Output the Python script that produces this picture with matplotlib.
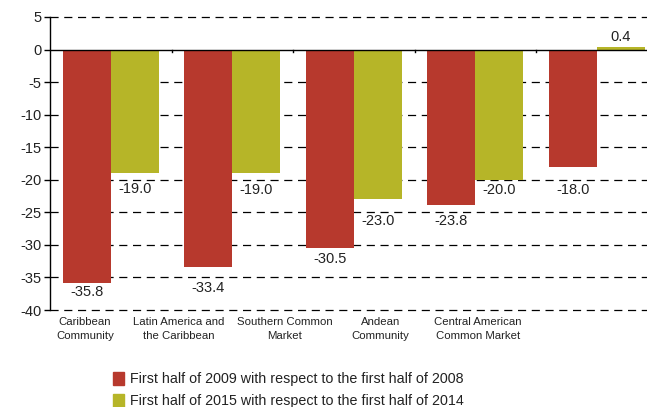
import numpy as np
import matplotlib
matplotlib.use('Agg')
import matplotlib.pyplot as plt
from matplotlib.patches import Patch

plt.rcParams['font.family'] = ['Liberation Sans', 'DejaVu Sans']
plt.rcParams['axes.unicode_minus'] = False

# Data
categories = ['Caribbean\nCommunity', 'Latin America and\nthe Caribbean',
              'Southern Common\nMarket', 'Andean\nCommunity',
              'Central American\nCommon Market']
values_2009 = [-35.8, -33.4, -30.5, -23.8, -18.0]
values_2015 = [-19.0, -19.0, -23.0, -20.0, 0.4]
labels_2009 = ['-35.8', '-33.4', '-30.5', '-23.8', '-18.0']
labels_2015 = ['-19.0', '-19.0', '-23.0', '-20.0', '0.4']
series_names = ['First half of 2009 with respect to the first half of 2008',
                'First half of 2015 with respect to the first half of 2014']

# where the value labels sit in the original (y, data units)
label_y_2009 = [-37.2, -36.6, -32.1, -26.4, -21.5]
label_y_2015 = [-21.4, -21.5, -26.4, -21.5, 2.0]

RED = '#B7392D'
OLIVE = '#B6B528'
TXT = '#222222'

W, H = 647, 407
fig = plt.figure(figsize=(W / 100, H / 100), dpi=100)
# axes run off the right edge, as in the original
ax = fig.add_axes([50 / W, (H - 310) / H, 607.5 / W, 293 / H])

x = np.arange(len(categories))
bw = 0.395
ax.bar(x - bw / 2, values_2009, bw, color=RED, zorder=3)
ax.bar(x + bw / 2, values_2015, bw, color=OLIVE, zorder=3)

for xi, ly, lab in zip(x - bw / 2, label_y_2009, labels_2009):
    ax.text(xi, ly, lab, ha='center', va='center', fontsize=10.5, color=TXT, zorder=4)
for xi, ly, lab in zip(x + bw / 2, label_y_2015, labels_2015):
    ax.text(xi, ly, lab, ha='center', va='center', fontsize=10.5, color=TXT, zorder=4)

ax.set_xlim(-0.5, len(categories) - 0.5)
ax.set_ylim(-40, 5)
ax.set_yticks(np.arange(-40, 6, 5))
ax.tick_params(axis='y', direction='out', length=4, width=1, labelsize=10.5,
               pad=2, labelcolor=TXT)
ax.set_xticks([])

for yv in np.arange(-40, 6, 5):
    if yv == 0:
        continue
    ax.axhline(yv, color='black', lw=0.9, ls=(0, (6.5, 4.5)), zorder=1, clip_on=False)
ax.axhline(0, color='black', lw=1.0, zorder=5)

# small ticks on the zero line between groups
for b in x[:-1] + 0.5:
    ax.plot([b, b], [0, -0.45], color='black', lw=1, zorder=5, clip_on=False)

for s in ['top', 'right', 'bottom']:
    ax.spines[s].set_visible(False)
ax.spines['left'].set_linewidth(1)

# category labels (they sit left of the bar groups in the original)
label_pos = [-0.213, 0.557, 1.434, 2.221, 3.02]
for lp, cat in zip(label_pos, categories):
    ax.text(lp, -41.1, cat, ha='center', va='top', fontsize=8.2, color=TXT,
            linespacing=1.5, clip_on=False)

handles = [Patch(color=RED), Patch(color=OLIVE)]
fig.legend(handles, series_names, loc='upper left', bbox_to_anchor=(107 / W, 1 - 366 / H),
           frameon=False, fontsize=10.3, handlelength=0.78, handleheight=1.0,
           handletextpad=0.4, labelspacing=0.55, borderaxespad=0, labelcolor=TXT)

fig.savefig('out.png', dpi=100)
